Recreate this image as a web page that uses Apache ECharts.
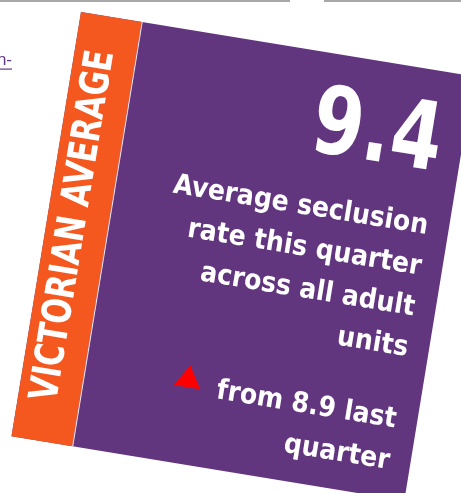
<!DOCTYPE html>
<html>
<head>
<meta charset="utf-8">
<script src="https://cdn.jsdelivr.net/npm/echarts@6/dist/echarts.min.js"></script>
<style>
  html, body { margin: 0; padding: 0; background: #fff; }
  #chart { width: 461px; height: 493px; }
</style>
</head>
<body>
<div id="chart"></div>
<script>
// card content
const cardTitle = 'VICTORIAN AVERAGE';
const currentRate = 9.4;
const previousRate = 8.9;
const descLines = ['Average seclusion', 'rate this quarter', 'across all adult', 'units'];
const changeLines = ['from ' + previousRate + ' last', 'quarter'];

const purple = '#62357f';
const orange = '#f4581f';
const cardW = 398;
const cardH = 430;
const stripW = 61.5;
const textRight = 377;
const bodyFont = 'bold 28px "DejaVu Sans Condensed"';
// text is placed by its bottom edge, so push it down by the descent
const bodyDrop = 7.5;

const chart = echarts.init(document.getElementById('chart'));

const cardChildren = [
  { type: 'rect', shape: { x: 0, y: 0, width: cardW, height: cardH }, style: { fill: purple } },
  { type: 'rect', shape: { x: 0, y: 0, width: stripW, height: cardH }, style: { fill: orange } },
  { type: 'rect', shape: { x: stripW, y: 0, width: 1, height: cardH }, style: { fill: '#f3eef6' } },
  {
    type: 'text',
    x: 28, y: 212,
    rotation: Math.PI / 2,
    scaleX: 0.84,
    style: {
      text: cardTitle, x: 0, y: 0,
      font: 'bold 40px "DejaVu Sans Condensed"',
      fill: '#fff', textAlign: 'center', textVerticalAlign: 'middle'
    }
  },
  {
    type: 'text',
    x: textRight, y: 99 + 23,
    scaleX: 0.87,
    style: {
      text: String(currentRate), x: 0, y: 0,
      font: 'bold 94px "DejaVu Sans Condensed"',
      fill: '#fff', textAlign: 'right', textVerticalAlign: 'bottom'
    }
  },
  {
    type: 'polygon',
    shape: { points: [[165, 331], [152, 353], [178.5, 353]] },
    style: { fill: '#ff0000' }
  }
];

descLines.forEach(function (line, i) {
  cardChildren.push({
    type: 'text',
    style: {
      text: line, x: textRight, y: 162.5 + i * 41.2 + bodyDrop,
      font: bodyFont, fill: '#fff', textAlign: 'right', textVerticalAlign: 'bottom'
    }
  });
});

changeLines.forEach(function (line, i) {
  cardChildren.push({
    type: 'text',
    style: {
      text: line, x: textRight, y: 358.5 + i * 42 + bodyDrop,
      font: bodyFont, fill: '#fff', textAlign: 'right', textVerticalAlign: 'bottom'
    }
  });
});

chart.setOption({
  backgroundColor: '#fff',
  graphic: [
    { type: 'rect', shape: { x: 0, y: 0, width: 290, height: 2 }, style: { fill: '#a8a8a8' } },
    { type: 'rect', shape: { x: 324, y: 0, width: 137, height: 2 }, style: { fill: '#a8a8a8' } },
    {
      type: 'text',
      style: { text: 'n-', x: 12, y: 69, font: '17px "Liberation Sans"', fill: '#5e3a86', textAlign: 'right', textVerticalAlign: 'bottom' }
    },
    { type: 'rect', shape: { x: 0, y: 68.5, width: 12, height: 1.2 }, style: { fill: '#5e3a86' } },
    {
      type: 'group',
      x: 81, y: 12,
      rotation: -9.3 * Math.PI / 180,
      children: cardChildren
    }
  ]
});
</script>
</body>
</html>
